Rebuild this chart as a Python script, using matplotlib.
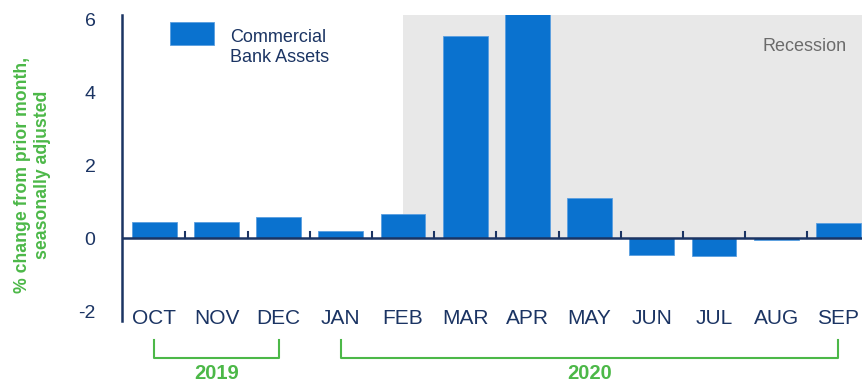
import matplotlib
matplotlib.use("Agg")
import matplotlib.pyplot as plt
import matplotlib.transforms as mtransforms
from matplotlib.patches import Rectangle

months = ["OCT", "NOV", "DEC", "JAN", "FEB", "MAR", "APR", "MAY", "JUN", "JUL", "AUG", "SEP"]
assets = [0.44, 0.44, 0.58, 0.2, 0.66, 5.53, 6.4, 1.1, -0.45, -0.5, -0.05, 0.42]
years = ["2019", "2020"]
year_spans = [(0, 2), (3, 11)]
recession_start = 4  # FEB 2020 peak

navy = "#1b3463"
blue = "#0a72cf"
green = "#4cb848"

plt.rcParams["font.family"] = ["Liberation Sans", "DejaVu Sans"]

fig = plt.figure(figsize=(8.67, 3.85), dpi=100)
ax = fig.add_axes([0.1407, 0.1662, 0.8535, 0.7948])

x = list(range(len(months)))
xlo, xhi = -0.52, 11.38
ylo, yhi = -2.27, 6.11
ax.set_xlim(xlo, xhi)
ax.set_ylim(ylo, yhi)

# recession shading only above the zero line
ax.axvspan(recession_start, xhi, ymin=-ylo / (yhi - ylo), ymax=1,
           color="#e8e8e8", zorder=0, lw=0)
ax.text(11.14, 5.26, "Recession", color="#6b6b6b", fontsize=13, ha="right", va="center")

bars = ax.bar(x, assets, width=0.72, color=blue, edgecolor="#5a9ee0", linewidth=0.6, zorder=2)

# zero line with small separators between months
ax.axhline(0, color=navy, lw=1.8, zorder=3)
for i in range(len(months) - 1):
    ax.plot([i + 0.5, i + 0.5], [0, 0.17], color=navy, lw=1.5, zorder=3)

for s in ["top", "right", "bottom"]:
    ax.spines[s].set_visible(False)
ax.spines["left"].set_color(navy)
ax.spines["left"].set_linewidth(1.8)

ax.set_xticks([])
ax.set_yticks([-2, 0, 2, 4, 6])
ax.set_yticklabels(["-2", "0", "2", "4", "6"])
ax.tick_params(axis="y", length=0, pad=19, labelsize=14, labelcolor=navy)

for i, m in enumerate(months):
    ax.text(i, -2.2, m, ha="center", va="center", fontsize=15, color=navy)

fig.text(0.0375, 0.5455, "% change from prior month,\nseasonally adjusted", color=green,
         fontsize=12.7, fontweight="bold", rotation=90, ha="center", va="center",
         linespacing=1.3, multialignment="center")

# legend swatch and label
fig.add_artist(Rectangle((0.1961, 0.8831), 0.0508, 0.0597, transform=fig.transFigure,
                         facecolor=bars.patches[0].get_facecolor(), edgecolor="#5a9ee0", lw=0.6))
fig.text(0.2653, 0.8766, "Commercial\nBank Assets", color=navy, fontsize=13,
         ha="left", va="center", linespacing=1.3)

# year brackets under the month labels
trans = mtransforms.blended_transform_factory(ax.transData, fig.transFigure)
for label, (a, b) in zip(years, year_spans):
    ax.plot([a, a, b, b], [0.117, 0.070, 0.070, 0.117], color=green, lw=1.5,
            transform=trans, clip_on=False)
    ax.text((a + b) / 2, 0.03, label, color=green, fontsize=14.5, fontweight="bold",
            ha="center", va="center", transform=trans)

fig.savefig("out.png", dpi=100)
